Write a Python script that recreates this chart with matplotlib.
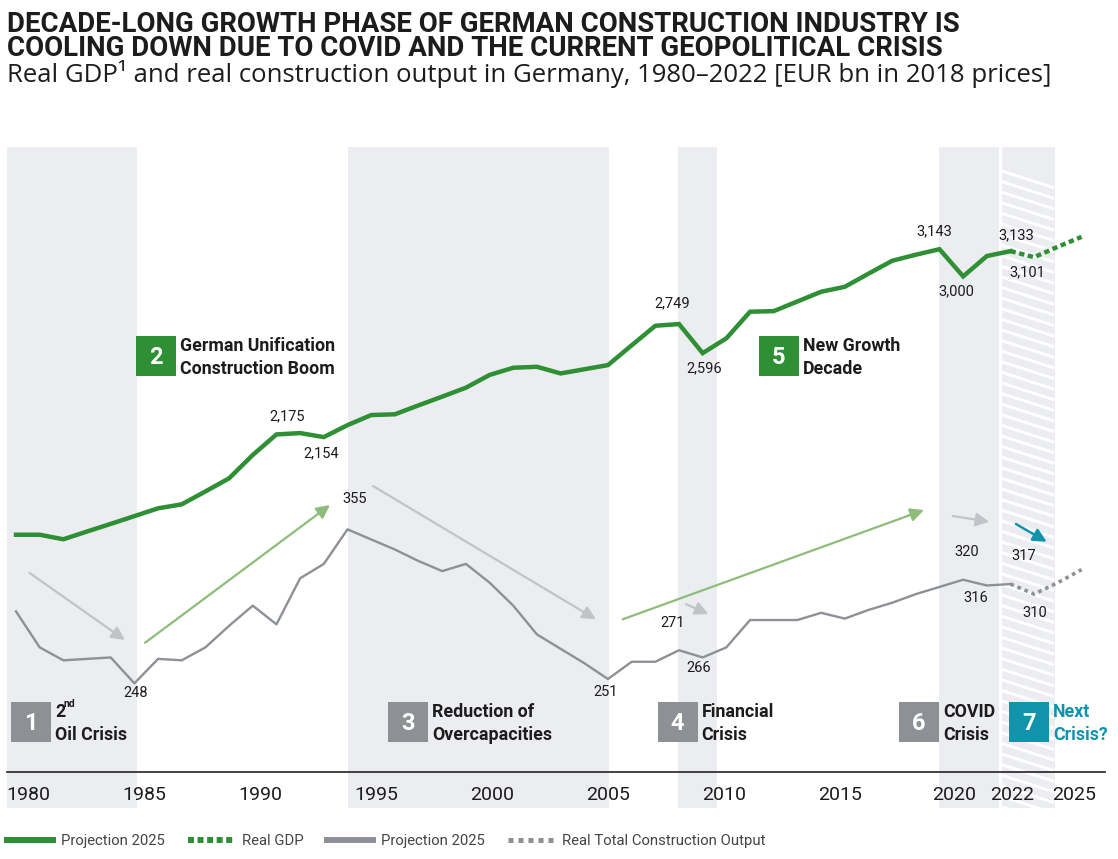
import matplotlib
matplotlib.use('Agg')
import matplotlib.pyplot as plt
from matplotlib.lines import Line2D
from matplotlib.patches import Rectangle

# ---- data (EUR bn, 2018 prices) ----
years = list(range(1980, 2023))
gdp = [1640, 1640, 1616, 1657, 1697, 1738, 1779, 1800, 1868, 1937,
       2060, 2168, 2175, 2154, 2217, 2270, 2274, 2321, 2367, 2414,
       2481, 2519, 2524, 2489, 2511, 2533, 2637, 2740, 2749, 2596,
       2674, 2814, 2817, 2868, 2919, 2945, 3014, 3082, 3114, 3143,
       3000, 3107, 3133]
construction = [298, 273, 264, 265, 266, 248, 265, 264, 273, 288,
                302, 289, 321, 331, 355, 348, 341, 333, 326, 331,
                318, 302, 282, 272, 262, 251, 263, 263, 271, 266,
                273, 292, 292, 292, 297, 293, 299, 304, 310, 315,
                320, 316, 317]
proj_years = [2022, 2023, 2024, 2025]
gdp_proj = [3133, 3101, 3156, 3208]
constr_proj = [317, 310, 318, 327]

gdp_label_years = [1992, 1993, 2008, 2009, 2019, 2020, 2022, 2023]
constr_label_years = [1985, 1994, 2005, 2008, 2009, 2020, 2021, 2022, 2023]

tick_labels = ['1980', '1985', '1990', '1995', '2000', '2005', '2010',
               '2015', '2020', '2022', '2025']
legend_labels = ['Projection 2025', 'Real GDP', 'Projection 2025',
                 'Real Total Construction Output']

title = ('DECADE-LONG GROWTH PHASE OF GERMAN CONSTRUCTION INDUSTRY IS\n'
         'COOLING DOWN DUE TO COVID AND THE CURRENT GEOPOLITICAL CRISIS')
subtitle = 'Real GDP\u00b9 and real construction output in Germany, 1980\u20132022 [EUR bn in 2018 prices]'

# ---- style ----
GREEN = '#2e8f34'
GRAY = '#8d9095'
BAND = '#ecedf0'
TEAL = '#1193ab'
ARROW_GRAY = '#c2c3c8'
ARROW_GREEN = '#8dbd79'
TXT = '#1c1c1c'

plt.rcParams['font.family'] = ['Roboto', 'DejaVu Sans']

W, H = 1118, 859
fig = plt.figure(figsize=(W / 100, H / 100), dpi=100)


def fx(px):
    return px / W


def fy(py):
    return 1 - py / H


ax = fig.add_axes([fx(7), fy(772), 1098 / W, 625 / H])
ax2 = ax.twinx()
ax.set_xlim(1979.62, 2025.99)
ax.set_ylim(391, 3681)
ax2.set_ylim(186.4, 620.7)

# shaded crisis bands
band_low = -(808 - 772) / 625
for a, b in [(1979.62, 1985.13), (1994.0, 2005.04), (2007.95, 2009.62),
             (2018.97, 2021.5)]:
    ax.axvspan(a, b, ymin=band_low, ymax=1, color=BAND, lw=0,
               clip_on=False, zorder=0)
hatch_band = ax.axvspan(2021.65, 2023.87, ymin=band_low, ymax=1, color=BAND,
                        lw=0, clip_on=False, zorder=0)

# white slanted stripes on the outlook band
x0, x1 = (1001.7 - 7) / 1098, (1054.3 - 7) / 1098
for k in range(62):
    yl = 171 + k * 10.6
    yr = yl + 0.32 * (1054.3 - 1001.7)
    ln, = ax.plot([x0, x1], [(772 - yl) / 625, (772 - yr) / 625],
                  transform=ax.transAxes, color='white', lw=2.2, zorder=0.5,
                  solid_capstyle='butt')
    ln.set_clip_path(hatch_band)

# lines
ax.plot(years, gdp, color=GREEN, lw=3.2, solid_joinstyle='miter', zorder=3)
ax.plot(proj_years, gdp_proj, color=GREEN, lw=3.2, ls=(0, (1.2, 0.8)), zorder=3)
ax2.plot(years, construction, color=GRAY, lw=1.7, zorder=3)
ax2.plot(proj_years, constr_proj, color=GRAY, lw=2.6, ls=(0, (1, 1.1)), zorder=3)

# value labels (pixel offsets: right, down)
gdp_off = [(-13, -17), (-3, 16), (-7, -21), (1, 15), (-5, -18), (-7, 15),
           (6, -16), (-7, 15)]
con_off = [(1, 10), (7, -30), (-2, 13), (-6, -27), (-4, 11), (4, -28),
           (-11, 13), (13, -28), (1, 19)]
gdp_all = dict(zip(years + proj_years, gdp + gdp_proj))
con_all = dict(zip(years + proj_years, construction + constr_proj))
for yr, (dx, dy) in zip(gdp_label_years, gdp_off):
    v = gdp_all[yr]
    ax.annotate(f'{v:,}', (yr, v), xytext=(dx, -dy), textcoords='offset pixels',
                ha='center', va='center', fontsize=10.5, color=TXT, zorder=5)
for yr, (dx, dy) in zip(constr_label_years, con_off):
    v = con_all[yr]
    ax2.annotate(f'{v:,}', (yr, v), xytext=(dx, -dy), textcoords='offset pixels',
                 ha='center', va='center', fontsize=10.5, color=TXT, zorder=5)

# trend arrows (year, construction value)
arrows = [((1980.56, 324.9), (1984.60, 278.1), ARROW_GRAY, 1.6),
          ((1985.45, 276.2), (1993.26, 371.9), ARROW_GREEN, 1.6),
          ((1995.08, 385.1), (2004.49, 292.5), ARROW_GRAY, 1.6),
          ((2005.62, 292.5), (2018.34, 368.4), ARROW_GREEN, 1.6),
          ((2008.29, 303.1), (2009.24, 296.2), ARROW_GRAY, 1.6),
          ((2019.56, 364.3), (2021.10, 360.3), ARROW_GRAY, 1.6),
          ((2022.23, 358.7), (2023.53, 346.4), TEAL, 1.8)]
for start, end, col, lw in arrows:
    ax2.annotate('', xy=end, xytext=start,
                 arrowprops=dict(arrowstyle='-|>', color=col, lw=lw,
                                 mutation_scale=20, shrinkA=0, shrinkB=0),
                 zorder=4)

# axes cosmetics
tick_pos = [1980.53, 1985.4, 1990.3, 1995.2, 2000.1, 2005.0, 2009.9,
            2014.8, 2019.6, 2022.05, 2024.7]
ax.set_xticks(tick_pos, tick_labels)
ax.tick_params(axis='x', length=0, pad=10, labelsize=14, labelcolor=TXT)
ax.set_yticks([])
ax2.set_yticks([])
for s in ['top', 'left', 'right']:
    ax.spines[s].set_visible(False)
for s in ax2.spines.values():
    s.set_visible(False)
ax.spines['bottom'].set_color('#222222')
ax.spines['bottom'].set_linewidth(1.2)
ax.spines['bottom'].set_zorder(6)
ax.patch.set_visible(False)

# numbered badges
badges = [('1', ['2', 'Oil Crisis'], 11, 702, GRAY, TXT),
          ('2', ['German Unification', 'Construction Boom'], 136, 336, GREEN, TXT),
          ('3', ['Reduction of', 'Overcapacities'], 388, 702, GRAY, TXT),
          ('4', ['Financial', 'Crisis'], 657.5, 702, GRAY, TXT),
          ('5', ['New Growth', 'Decade'], 758.6, 336, GREEN, TXT),
          ('6', ['COVID', 'Crisis'], 899, 702, GRAY, TXT),
          ('7', ['Next', 'Crisis?'], 1009, 702, TEAL, TEAL)]
for num, lines, bx, by, col, tcol in badges:
    fig.patches.append(Rectangle((fx(bx), fy(by + 40)), 40 / W, 40 / H,
                                 transform=fig.transFigure, color=col, lw=0))
    fig.text(fx(bx + 20), fy(by + 21), num, ha='center', va='center',
             color='white', fontsize=17, fontweight='bold')
    for i, t in enumerate(lines):
        fig.text(fx(bx + 44), fy(by + 10 + 23 * i), t, ha='left', va='center',
                 color=tcol, fontsize=12.8, fontweight='bold')
fig.text(fx(64), fy(704), 'nd', ha='left', va='center', color=TXT,
         fontsize=7.5, fontweight='bold')

# titles
fig.text(fx(7), fy(56), title, ha='left', va='baseline', fontsize=19.9,
         fontweight='bold', color=TXT, linespacing=0.87)
fig.text(fx(7), fy(82), subtitle, ha='left', va='baseline', fontsize=18.5,
         color=TXT, family=['Open Sans', 'DejaVu Sans'])

# legend
handles = [Line2D([], [], color=GREEN, lw=4.3),
           Line2D([], [], color=GREEN, lw=4.3, ls=(0, (1, 0.6))),
           Line2D([], [], color=GRAY, lw=4.3),
           Line2D([], [], color=GRAY, lw=3.6, ls=(0, (1, 1)))]
fig.legend(handles, legend_labels, loc='center left',
           bbox_to_anchor=(fx(7), fy(841)), ncol=4, frameon=False,
           fontsize=10.7, labelcolor='#444444', handlelength=3.1,
           handletextpad=0.55, columnspacing=1.55, borderpad=0,
           borderaxespad=0)

fig.savefig('out.png', dpi=100)
